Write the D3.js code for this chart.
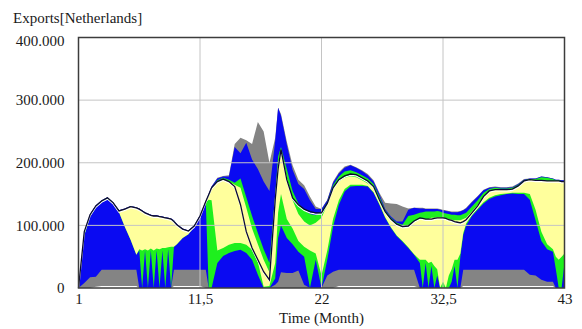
<!DOCTYPE html>
<html><head><meta charset="utf-8">
<script src="https://cdn.jsdelivr.net/npm/d3@7"></script>
<style>body{margin:0;background:#fff}svg{display:block}svg text{font-family:"Liberation Serif","DejaVu Serif",serif !important}</style>
</head><body><svg id="c" width="582" height="329"></svg>
<script>
// time axis (months)
const times=[1,1.5,2,2.5,3,3.5,4,4.5,5,5.5,
6,6.25,6.5,6.75,7,7.25,7.5,7.75,8,8.25,
8.5,8.75,9,9.25,9.5,10,10.5,11,11.5,12,
12.25,12.5,13,13.5,14,14.5,15,15.5,16,16.5,
17,17.5,18,18.25,18.5,19,19.5,20,20.5,21,
21.5,22,22.5,23,23.5,24,24.5,25,25.5,26,
26.5,27,27.5,28,28.5,29,29.5,30,30.5,30.75,
31,31.25,31.5,31.75,32,32.25,32.5,32.75,33,33.25,
33.5,33.75,34,34.25,34.5,35,35.5,36,36.5,37,
37.5,38,38.5,39,39.5,40,40.5,41,41.5,42,
42.25,42.5,42.75,43];
// sensitivity bands (thousands): 100% (gray), 95% (blue), 75% (green), 50% (yellow)
const grayLo=[0,0,0,2,3,3,3,3,3,3,
3,0,0,0,0,0,0,0,0,0,
0,0,0,3,3,3,3,3,3,0,
0,0,0,0,0,0,0,0,0,0,
0,0,0,0,0,0,0,0,0,0,
0,0,0,0,3,3,3,3,3,3,
3,3,3,3,3,3,3,3,0,0,
0,0,0,0,0,0,0,0,0,0,
0,0,0,3,3,3,3,3,3,3,
3,3,3,3,3,3,3,3,3,3,
0,0,0,0];
const grayHi=[0,90,118,132,140,145,137,124,127,131,
129,127,124,121,119,117,116,116,115,114,
113,112,111,108,102,95,92,100,116,139,
150,162,176,179,180,230,240,236,230,265,
250,200,240,288,278,234,196,173,164,146,
130,126,141,170,185,194,197,193,188,182,
172,152,136,135,134,130,127,128,128,128,
127,127,127,127,127,126,125,124,123,122,
122,122,123,125,128,138,147,157,161,162,
161,161,162,167,174,175,175,178,177,175,
173,173,172,172];
const blueLo=[0,8,17,18,29,29,29,29,29,29,
29,0,0,0,0,0,0,0,0,0,
0,0,0,29,29,29,29,29,29,29,
0,0,0,0,0,0,0,0,0,0,
0,0,5,10,25,24,24,28,5,0,
0,0,20,26,29,29,29,29,29,29,
29,29,29,29,29,29,29,29,0,0,
0,0,0,0,0,0,0,0,0,0,
0,0,0,29,29,29,29,29,29,29,
29,29,29,29,29,21,20,13,10,10,
0,0,0,0];
const blueHi=[0,90,118,132,140,145,137,124,127,131,
129,127,124,121,119,117,116,116,115,114,
113,112,111,108,102,95,92,100,116,139,
150,162,175,178,178,225,215,232,205,190,
170,155,235,288,275,229,189,166,158,140,
126,126,140,168,183,192,196,192,187,180,
170,150,126,114,106,106,125,128,127,127,
126,126,126,126,126,125,124,123,122,121,
121,121,122,124,127,137,146,156,160,161,
160,160,161,166,173,175,175,178,177,175,
173,173,172,172];
const greenLo=[0,84,114,129,137,142,134,121,98,77,
53,60,0,60,0,60,0,60,0,60,
0,62,0,66,70,80,86,98,114,137,
0,0,40,51,56,59,61,56,45,21,
0,0,15,80,100,80,70,58,50,0,
45,0,45,98,133,154,162,163,163,162,
152,133,112,96,83,74,64,53,40,0,
40,0,35,0,20,0,0,0,0,10,
35,0,50,85,100,115,125,135,142,146,
148,150,151,150,150,141,108,75,62,58,
30,0,0,40];
const greenHi=[0,89,117,131,139,144,136,123,126,130,
128,126,123,120,118,116,115,115,114,113,
112,111,110,107,101,94,91,99,115,138,
148,160,172,176,173,168,175,145,115,88,
62,40,150,210,225,190,155,135,125,118,
116,122,137,164,178,186,188,185,180,175,
166,146,124,112,104,101,115,117,120,121,
122,122,122,122,123,122,120,119,118,117,
117,116,116,118,120,130,140,152,158,160,
159,159,160,165,172,174,174,177,176,174,
172,172,171,171];
const yellowLo=[0,87,116,130,138,143,135,121,98,77,
53,62,60,62,60,63,60,63,62,64,
64,65,66,66,70,80,86,98,114,137,
141,140,60,64,69,72,72,69,61,42,
2,3,40,120,150,110,95,75,66,60,
55,20,60,110,140,158,165,165,165,163,
153,134,113,97,84,75,65,54,45,45,
45,40,42,35,30,0,10,0,20,30,
45,45,55,88,103,117,127,137,144,148,
150,151,152,152,152,150,125,90,70,62,
50,45,50,55];
const yellowHi=[0,88,117,131,139,144,136,123,126,130,
128,126,123,120,118,116,115,115,114,113,
112,111,110,107,101,94,91,99,115,138,
145,158,170,174,170,165,160,128,95,70,
45,25,130,200,215,175,140,118,106,100,
104,112,133,158,170,176,178,177,172,167,
160,140,120,108,100,97,99,105,110,110,
110,110,112,112,113,113,112,111,110,109,
108,108,108,110,112,122,133,146,155,157,
157,157,158,163,171,173,172,172,171,171,
171,171,170,170];
// current run
const baseRun=[0,90,117,131,139,144,136,123,126,130,
128,126,123,120,118,116,115,115,114,113,
112,111,110,106,101,94,91,99,115,138,
149,160,170,174,170,162,133,90,64,45,
26,13,141,190,221,173,144,133,126,122,
120,120,135,160,173,179,182,181,176,171,
162,141,122,110,102,98,99,107,112,111,
110,110,110,111,112,112,112,111,109,108,
106,105,104,106,109,120,131,146,155,157,
157,157,158,163,171,173,172,172,171,171,
171,171,170,170];
const yTickVals=[0,100,200,300,400];
const yTickLabels=["0","100.000","200.000","300.000","400.000"];
const xTickVals=[1,11.5,22,32.5,43];
const xTickLabels=["1","11,5","22","32,5","43"];
const chartTitle="Exports[Netherlands]";
const xTitle="Time (Month)";

const FONT='"Liberation Serif","DejaVu Serif",serif';
const svg=d3.select("#c");
const x=d3.scaleLinear().domain([1,43]).range([78.5,564.5]);
const y=d3.scaleLinear().domain([0,400]).range([288,37.5]);

function band(lo,hi,color){
  const a=d3.area().x((d,i)=>x(times[i])).y0((d,i)=>y(lo[i])).y1((d,i)=>y(hi[i]));
  svg.append("path").datum(times).attr("d",a).attr("fill",color);
}
band(grayLo,grayHi,"#848484");
band(blueLo,blueHi,"#0a0af2");
band(greenLo,greenHi,"#1ef01e");
band(yellowLo,yellowHi,"#ffff9c");

// grid
svg.append("g").selectAll("line").data(yTickVals.filter(v=>v>0&&v<400)).join("line")
  .attr("x1",x(1)).attr("x2",x(43)).attr("y1",d=>y(d)).attr("y2",d=>y(d))
  .attr("stroke","#c4c4c4").attr("stroke-width",1);
svg.append("g").selectAll("line").data(xTickVals.filter(v=>v>1&&v<43)).join("line")
  .attr("y1",y(0)).attr("y2",y(400)).attr("x1",d=>x(d)).attr("x2",d=>x(d))
  .attr("stroke","#c4c4c4").attr("stroke-width",1);

// base run line
const ln=d3.line().x((d,i)=>x(times[i])).y(d=>y(d));
svg.append("path").datum(baseRun).attr("d",ln).attr("fill","none")
  .attr("stroke","#ffffff").attr("stroke-width",1.2).attr("transform","translate(0,1.3)");
svg.append("path").datum(baseRun).attr("d",ln).attr("fill","none")
  .attr("stroke","#0b0b30").attr("stroke-width",1.3);

// frame
svg.append("rect").attr("x",x(1)).attr("y",y(400)).attr("width",x(43)-x(1)).attr("height",y(0)-y(400))
  .attr("fill","none").attr("stroke","#3c3c3c").attr("stroke-width",1.5);

// axes
const ya=svg.append("g").attr("transform",`translate(${x(1)},0)`)
  .call(d3.axisLeft(y).tickValues(yTickVals).tickFormat((d,i)=>yTickLabels[i]).tickSize(0).tickPadding(14));
ya.attr("font-family",null).attr("font-size",null);
ya.select(".domain").remove();
ya.selectAll("text").style("font-family",FONT).style("font-size","15px").attr("fill","#1a1a1a")
  .attr("dy",d=>d===400?"0.55em":"0.32em");
const xa=svg.append("g").attr("transform",`translate(0,${y(0)})`)
  .call(d3.axisBottom(x).tickValues(xTickVals).tickFormat((d,i)=>xTickLabels[i]).tickSize(0).tickPadding(5));
xa.attr("font-family",null).attr("font-size",null);
xa.select(".domain").remove();
xa.selectAll("text").style("font-family",FONT).style("font-size","15px").attr("fill","#1a1a1a");

svg.append("text").attr("x",13).attr("y",23).style("font-family",FONT).style("font-size","15px")
  .attr("fill","#1a1a1a").text(chartTitle);
svg.append("text").attr("x",(x(1)+x(43))/2).attr("y",323).attr("text-anchor","middle")
  .style("font-family",FONT).style("font-size","15px").attr("fill","#1a1a1a").text(xTitle);
</script></body></html>
